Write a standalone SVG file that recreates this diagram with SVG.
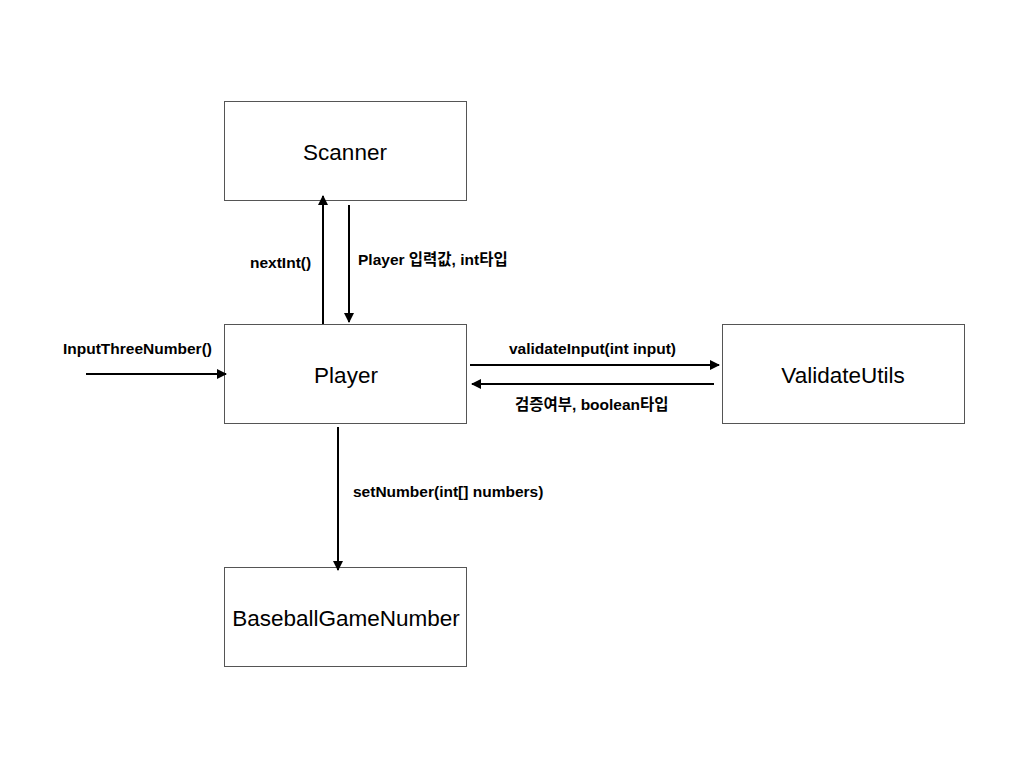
<svg xmlns="http://www.w3.org/2000/svg" width="1024" height="768" viewBox="0 0 1024 768">
<style>
.box{fill:#fff;stroke:#555;stroke-width:1}
.name{font-family:"Liberation Sans",Arial,sans-serif;font-size:22.5px;fill:#000;text-anchor:middle}
.lbl{font-family:"Liberation Sans","Noto Sans CJK KR",Arial,sans-serif;font-size:15.5px;font-weight:bold;fill:#000}
.ln{stroke:#000;stroke-width:2;fill:none;marker-end:url(#ah)}
</style>
<defs>
<marker id="ah" viewBox="0 0 10 10" refX="9" refY="5" markerWidth="5" markerHeight="5" orient="auto" markerUnits="strokeWidth">
<path d="M0,0 L10,5 L0,10 z" fill="#000"/>
</marker>
</defs>
<rect width="1024" height="768" fill="#fff"/>
<g id="scanner"><rect class="box" x="224.5" y="101.5" width="242" height="99"/><text class="name" x="345" y="160">Scanner</text></g>
<g id="player"><rect class="box" x="224.5" y="324.5" width="242" height="99"/><text class="name" x="346" y="383">Player</text></g>
<g id="validateutils"><rect class="box" x="722.5" y="324.5" width="242" height="99"/><text class="name" x="843" y="383">ValidateUtils</text></g>
<g id="baseballgamenumber"><rect class="box" x="224.5" y="567.5" width="242" height="99"/><text class="name" x="346" y="626">BaseballGameNumber</text></g>
<g id="connectors">
<line class="ln" x1="323" y1="324" x2="323" y2="196"/>
<line class="ln" x1="349" y1="205" x2="349" y2="322"/>
<line class="ln" x1="86" y1="374" x2="226" y2="374"/>
<line class="ln" x1="470" y1="365" x2="719" y2="365"/>
<line class="ln" x1="714" y1="384" x2="472" y2="384"/>
<line class="ln" x1="338" y1="427" x2="338" y2="570"/>
<text class="lbl" x="250" y="268">nextInt()</text>
<text class="lbl" x="358" y="265">Player 입력값, int타입</text>
<text class="lbl" x="63" y="354">InputThreeNumber()</text>
<text class="lbl" x="509" y="354">validateInput(int input)</text>
<text class="lbl" x="515" y="410">검증여부, boolean타입</text>
<text class="lbl" x="353" y="497">setNumber(int[] numbers)</text>
</g>
</svg>
